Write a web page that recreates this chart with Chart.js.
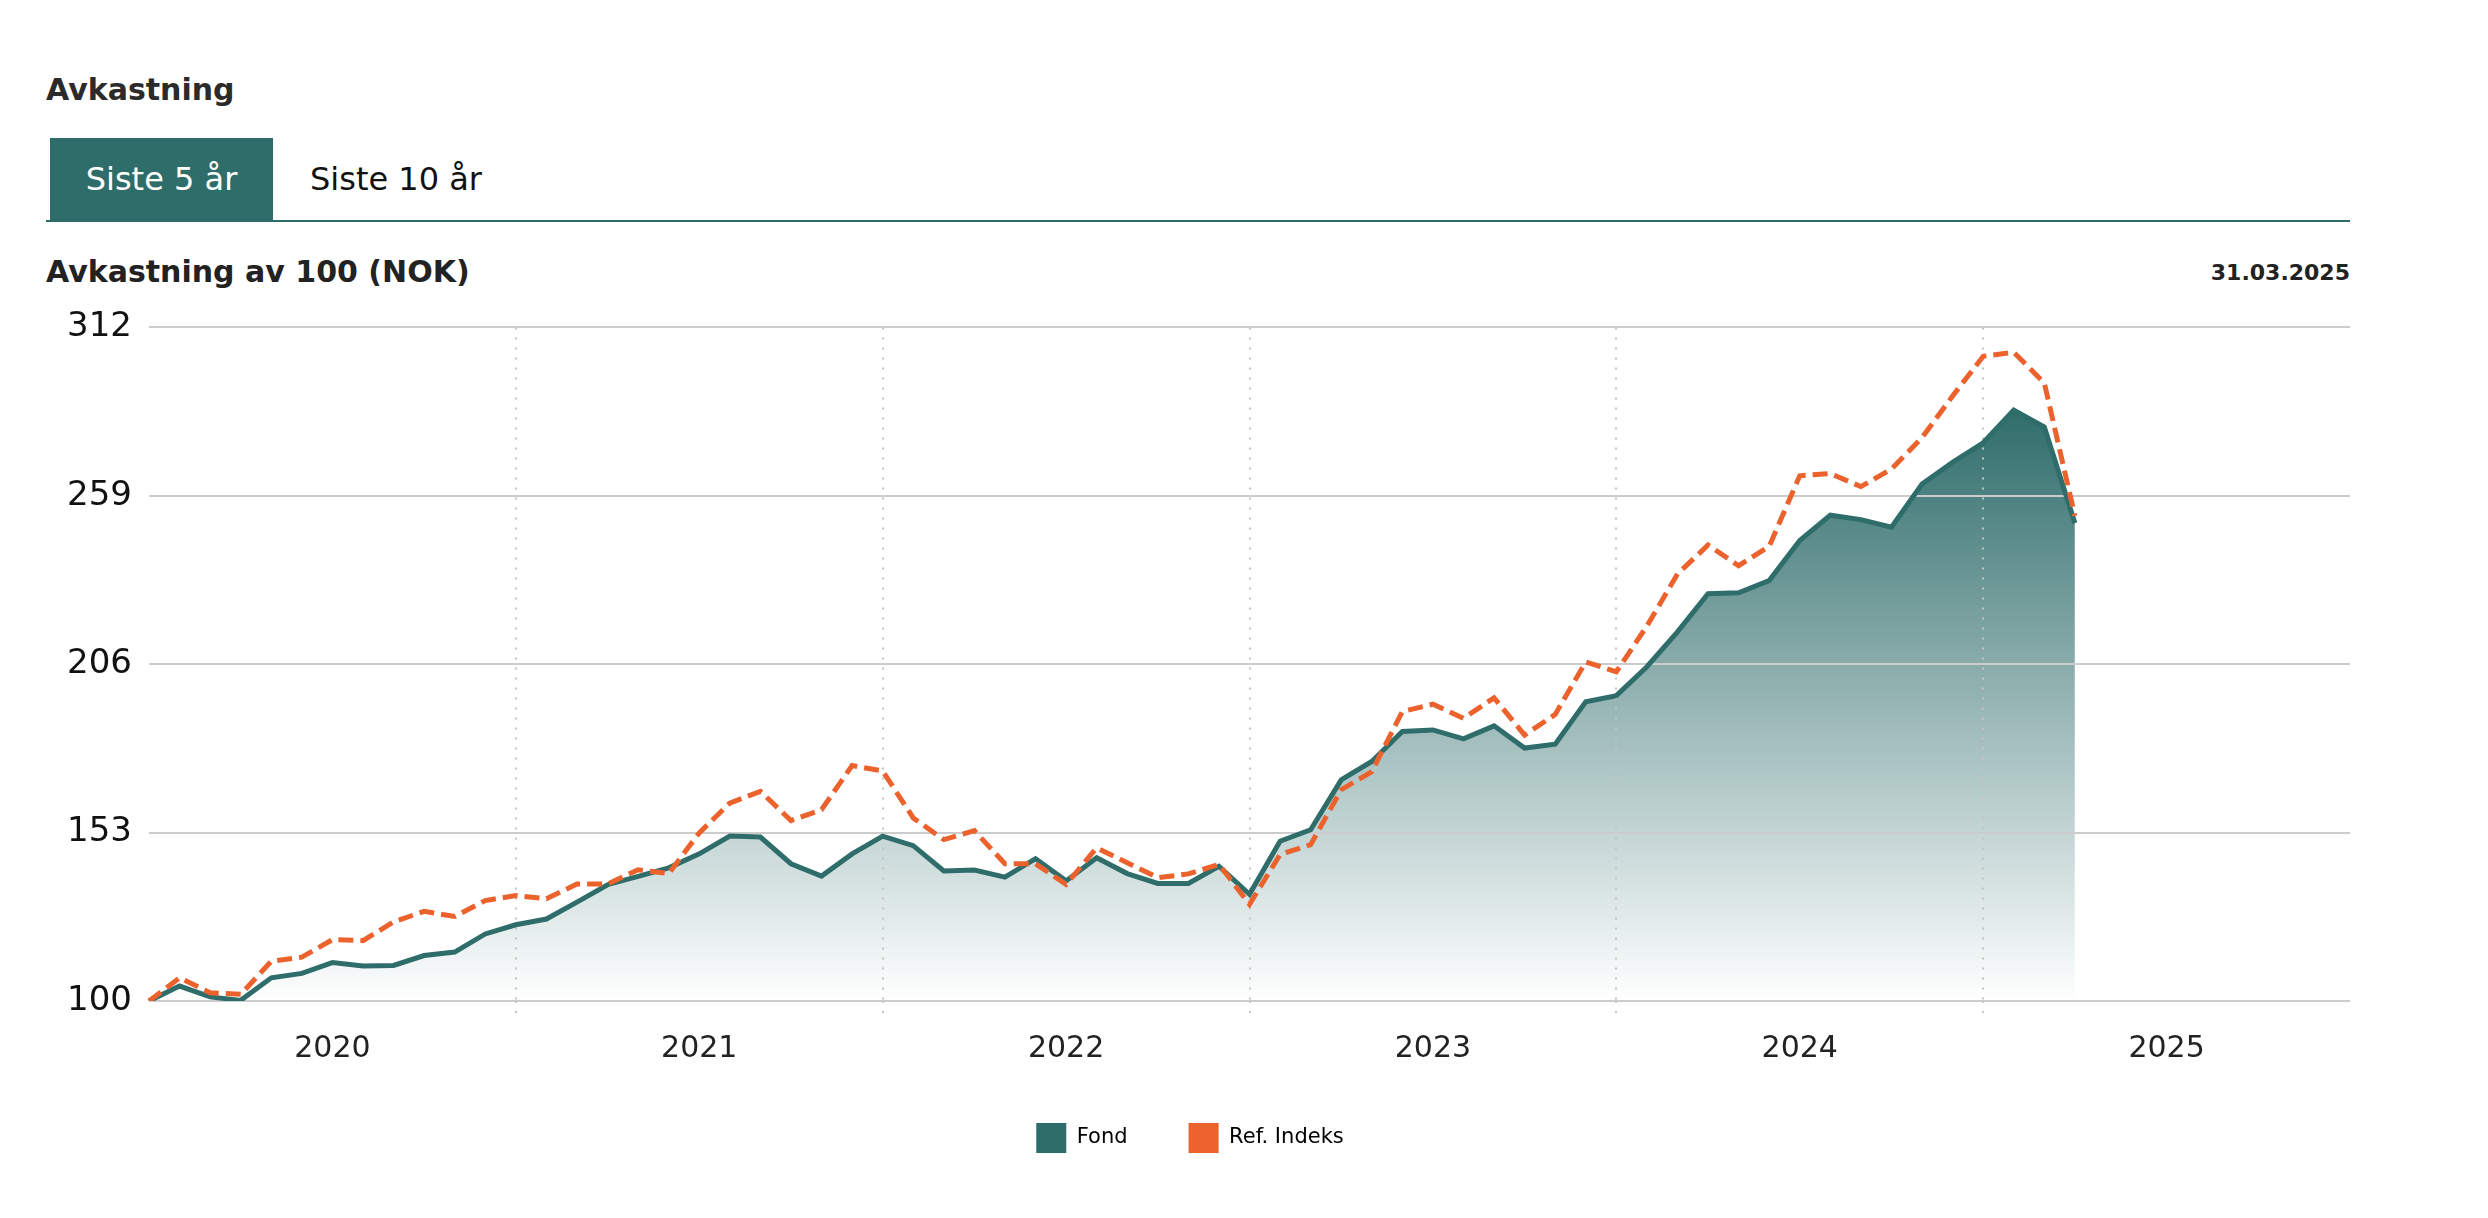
<!DOCTYPE html>
<html lang="no">
<head>
<meta charset="utf-8">
<title>Avkastning</title>
<script src="https://cdn.jsdelivr.net/npm/chart.js@4.4.1/dist/chart.umd.min.js"></script>
<style>
  html, body { margin: 0; padding: 0; background: #fff; }
  body { width: 2488px; height: 1218px; position: relative; font-family: "DejaVu Sans", Verdana, sans-serif; overflow: hidden; }
  .title { position: absolute; left: 46px; top: 70px; font-size: 30px; line-height: 40px; font-weight: bold; color: #2b2b2b; }
  .tabs { position: absolute; left: 46px; top: 138px; width: 2304px; height: 82px; border-bottom: 2px solid #2f6d6b; }
  .tab { position: absolute; top: 0; height: 82px; line-height: 82px; font-size: 32px; color: #111; }
  .tab.active { left: 4px; width: 223px; background: #2f6d6b; color: #fff; text-align: center; }
  .tab.other { left: 264px; }
  .subtitle { position: absolute; left: 46px; top: 252px; font-size: 30px; line-height: 40px; font-weight: bold; color: #222; }
  .date { position: absolute; right: 138px; top: 258px; font-size: 22px; line-height: 30px; font-weight: bold; color: #222; }
  .chart-box { position: absolute; left: 20px; top: 290px; width: 2340px; height: 873px; }
</style>
</head>
<body>
<div class="title">Avkastning</div>
<div class="tabs">
  <div class="tab active">Siste 5 år</div>
  <div class="tab other">Siste 10 år</div>
</div>
<div class="subtitle">Avkastning av 100 (NOK)</div>
<div class="date">31.03.2025</div>
<div class="chart-box"><canvas id="returnChart"></canvas></div>

<script>
// month-end points from 31.12.2019 to 31.03.2025, axis runs to 31.12.2025
const startYear = 2019;
const axisMonths = 73;

const fondValues = [
    100.0, 104.7, 101.3, 100.2, 107.3, 108.7, 112.1, 111.0, 111.2, 114.3, 115.4, 121.1,
    124.0, 125.8, 131.1, 136.6, 139.2, 141.9, 146.3, 151.9, 151.6, 143.2, 139.3, 146.3,
    151.9, 148.9, 140.9, 141.2, 139.0, 144.8, 137.8, 145.1, 140.1, 137.0, 137.0, 142.4,
    133.6, 150.3, 153.9, 169.6, 175.4, 184.8, 185.3, 182.5, 186.6, 179.6, 180.8, 194.2,
    196.1, 205.2, 216.2, 228.2, 228.5, 232.3, 244.9, 252.9, 251.5, 249.1, 262.7, 269.5,
    275.7, 286.0, 280.7, 250.4
];

const refValues = [
    100.0, 107.3, 102.6, 102.1, 112.5, 113.8, 119.3, 119.0, 124.9, 128.2, 126.6, 131.6,
    133.2, 132.2, 136.8, 136.8, 141.3, 140.1, 152.9, 162.3, 166.0, 156.8, 160.2, 174.1,
    172.4, 157.6, 150.8, 153.6, 143.2, 143.2, 136.7, 148.2, 143.5, 138.8, 140.0, 143.0,
    130.4, 146.1, 149.2, 166.5, 172.2, 191.1, 193.4, 189.0, 195.4, 183.7, 190.2, 206.7,
    203.6, 218.0, 234.4, 243.5, 237.0, 243.1, 265.3, 266.0, 261.9, 267.4, 277.3, 290.4,
    302.9, 304.2, 294.5, 252.7
];

const yTicks = [100, 153, 206, 259, 312];
const seriesNames = ['Fond', 'Ref. Indeks'];

const TEAL = '#2f6d6b';
const ORANGE = '#ec622d';

// category labels: "MM.YYYY" for each month end
const monthLabels = [];
for (let i = 0; i < axisMonths; i++) {
    const m = (11 + i) % 12 + 1;
    const y = startYear + Math.floor((11 + i) / 12);
    monthLabels.push(String(m).padStart(2, '0') + '.' + y);
}

function fondGradient(context) {
    const chart = context.chart;
    const area = chart.chartArea;
    if (!area) return 'rgba(47,109,107,0.4)';
    const top = chart.scales.y.getPixelForValue(Math.max(...fondValues));
    const g = chart.ctx.createLinearGradient(0, top, 0, area.bottom);
    g.addColorStop(0, 'rgba(47,109,107,1)');
    g.addColorStop(1, 'rgba(47,109,107,0)');
    return g;
}

// dotted year separators only at each new year
const yearLine = (ctx) => (ctx.index % 12 === 0 && ctx.index > 0 && ctx.index < axisMonths - 1) ? '#c4c4c4' : 'rgba(0,0,0,0)';

Chart.defaults.font.family = "'DejaVu Sans', Verdana, sans-serif";

new Chart(document.getElementById('returnChart'), {
    type: 'line',
    data: {
        labels: monthLabels,
        datasets: [
            {
                label: seriesNames[0],
                data: fondValues,
                borderColor: TEAL,
                backgroundColor: fondGradient,
                borderWidth: 5,
                fill: 'start',
                tension: 0,
                pointRadius: 0,
                order: 1
            },
            {
                label: seriesNames[1],
                data: refValues,
                borderColor: ORANGE,
                backgroundColor: ORANGE,
                borderWidth: 5,
                borderDash: [15, 7],
                fill: false,
                tension: 0,
                pointRadius: 0,
                order: 0
            }
        ]
    },
    options: {
        responsive: true,
        maintainAspectRatio: false,
        animation: false,
        layout: { padding: { top: 34, bottom: 0, left: 0, right: 0 } },
        plugins: {
            filler: { drawTime: 'beforeDraw' },
            tooltip: { enabled: false },
            legend: {
                position: 'bottom',
                labels: {
                    boxWidth: 30,
                    boxHeight: 30,
                    padding: 61,
                    color: '#333',
                    font: { size: 21 },
                    generateLabels: (chart) => chart.data.datasets.map((ds, i) => ({
                        text: ds.label,
                        fillStyle: ds.borderColor,
                        strokeStyle: ds.borderColor,
                        lineWidth: 0,
                        hidden: false,
                        datasetIndex: i
                    }))
                }
            }
        },
        scales: {
            x: {
                type: 'category',
                grid: {
                    drawTicks: true,
                    tickLength: 20,
                    lineWidth: 2,
                    color: yearLine,
                    tickBorderDash: [2, 8]
                },
                border: { display: false, dash: [2, 8] },
                ticks: {
                    autoSkip: false,
                    maxRotation: 0,
                    minRotation: 0,
                    padding: 10,
                    color: '#222',
                    font: { size: 30 },
                    callback: function (value, index) {
                        return index % 12 === 6 ? this.getLabelForValue(value).slice(3) : '';
                    }
                },
                afterFit: (scale) => { scale.height = 61; }
            },
            y: {
                min: 100,
                max: 312,
                grid: { drawTicks: false, lineWidth: 2, color: '#cccccc' },
                border: { display: false },
                ticks: {
                    padding: 17,
                    color: '#111',
                    font: { size: 34 }
                },
                afterBuildTicks: (scale) => { scale.ticks = yTicks.map(v => ({ value: v })); },
                afterFit: (scale) => { scale.width = 129; }
            }
        }
    }
});
</script>
</body>
</html>
